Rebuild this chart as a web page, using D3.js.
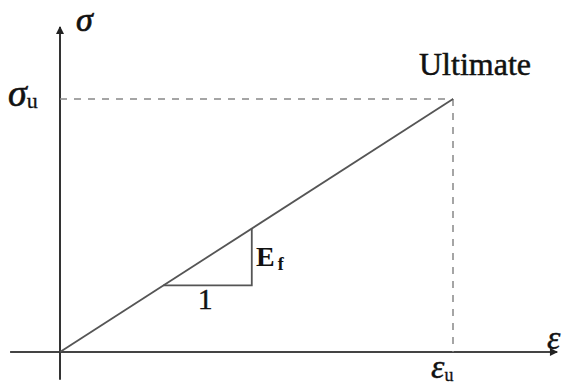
<!DOCTYPE html>
<html>
<head>
<meta charset="utf-8">
<script src="https://cdn.jsdelivr.net/npm/d3@7/dist/d3.min.js"></script>
<style>
  html, body { margin: 0; padding: 0; background: #fff; }
  svg { display: block; }
  text { font-family: "Liberation Serif", "DejaVu Serif", serif; fill: #111; }
</style>
</head>
<body>
<svg id="chart" width="571" height="388"></svg>
<script>
// Linear-elastic stress–strain response of an FRP up to rupture (normalised units)
const strain = [0, 1];          // ε / εu
const stress = [0, 1];          // σ / σu
const slopeRun = [0.263, 0.488]; // strain interval of the modulus triangle
const ultimateLabel = "Ultimate";
const xTickLabel = "ε";          // εu
const yTickLabel = "σ";          // σu

const svg = d3.select("#chart");
const x = d3.scaleLinear().domain([0, 1]).range([60, 453]);
const y = d3.scaleLinear().domain([0, 1]).range([352, 99]);

// arrowhead marker
svg.append("defs").append("marker")
  .attr("id", "arrow").attr("viewBox", "0 0 10 10")
  .attr("refX", 9).attr("refY", 5)
  .attr("markerWidth", 10).attr("markerHeight", 8)
  .attr("markerUnits", "userSpaceOnUse")
  .attr("orient", "auto")
  .append("path").attr("d", "M0,0 L10,5 L0,10 Z").attr("fill", "#222");

// axes
svg.append("line")
  .attr("x1", x(-0.127)).attr("y1", y(0))
  .attr("x2", x(1.265)).attr("y2", y(0))
  .attr("stroke", "#444").attr("stroke-width", 2)
  .attr("marker-end", "url(#arrow)");
svg.append("line")
  .attr("x1", x(0)).attr("y1", y(-0.11))
  .attr("x2", x(0)).attr("y2", y(1.285))
  .attr("stroke", "#333").attr("stroke-width", 2)
  .attr("marker-end", "url(#arrow)");

// dashed guides to the ultimate point
const guide = svg.append("g")
  .attr("stroke", "#888").attr("stroke-width", 1.5)
  .attr("stroke-dasharray", "7,7").attr("fill", "none");
guide.append("line")
  .attr("x1", x(0)).attr("y1", y(stress[1]))
  .attr("x2", x(strain[1])).attr("y2", y(stress[1]));
guide.append("line")
  .attr("x1", x(strain[1])).attr("y1", y(stress[1]))
  .attr("x2", x(strain[1])).attr("y2", y(0));

// stress–strain line
const line = d3.line().x((d, i) => x(strain[i])).y(d => y(d));
svg.append("path")
  .datum(stress)
  .attr("d", line)
  .attr("fill", "none").attr("stroke", "#555").attr("stroke-width", 1.8);

// modulus triangle
const e0 = slopeRun[0], e1 = slopeRun[1];
const s0 = e0 * stress[1] / strain[1], s1 = e1 * stress[1] / strain[1];
svg.append("path")
  .attr("d", `M${x(e0)},${y(s0)} L${x(e1)},${y(s0)} L${x(e1)},${y(s1)}`)
  .attr("fill", "none").attr("stroke", "#555").attr("stroke-width", 1.8);

// labels
svg.append("text").attr("x", 76).attr("y", 31)
  .style("font-size", "34px").style("font-style", "italic")
  .attr("stroke", "#111").attr("stroke-width", 0.7).text(yTickLabel);

const su = svg.append("text").attr("x", 8).attr("y", 106)
  .style("font-size", "38px").style("font-style", "italic")
  .attr("stroke", "#111").attr("stroke-width", 0.6);
su.append("tspan").text(yTickLabel);
su.append("tspan").attr("dy", 2).style("font-size", "22px").style("font-style", "normal")
  .attr("stroke-width", 0.3).text("u");

const eu = svg.append("text").attr("x", 431).attr("y", 378)
  .style("font-size", "34px").style("font-style", "italic")
  .attr("stroke", "#111").attr("stroke-width", 0.4);
eu.append("tspan").text(xTickLabel);
eu.append("tspan").attr("dy", 3).style("font-size", "18px").style("font-style", "normal")
  .attr("stroke-width", 0.3).text("u");

svg.append("text").attr("x", 547).attr("y", 349)
  .style("font-size", "34px").style("font-style", "italic")
  .attr("stroke", "#111").attr("stroke-width", 0.4).text(xTickLabel);

svg.append("text").attr("x", 419).attr("y", 75)
  .style("font-size", "32px")
  .attr("stroke", "#111").attr("stroke-width", 0.5).text(ultimateLabel);

const ef = svg.append("text").attr("x", 256).attr("y", 266)
  .style("font-size", "28px").style("font-weight", "bold");
ef.append("tspan").text("E");
ef.append("tspan").attr("dx", 3).attr("dy", 4).style("font-size", "18px").text("f");

svg.append("text").attr("x", 198).attr("y", 309)
  .style("font-size", "29px").attr("stroke", "#111").attr("stroke-width", 0.5).text("1");
</script>
</body>
</html>
